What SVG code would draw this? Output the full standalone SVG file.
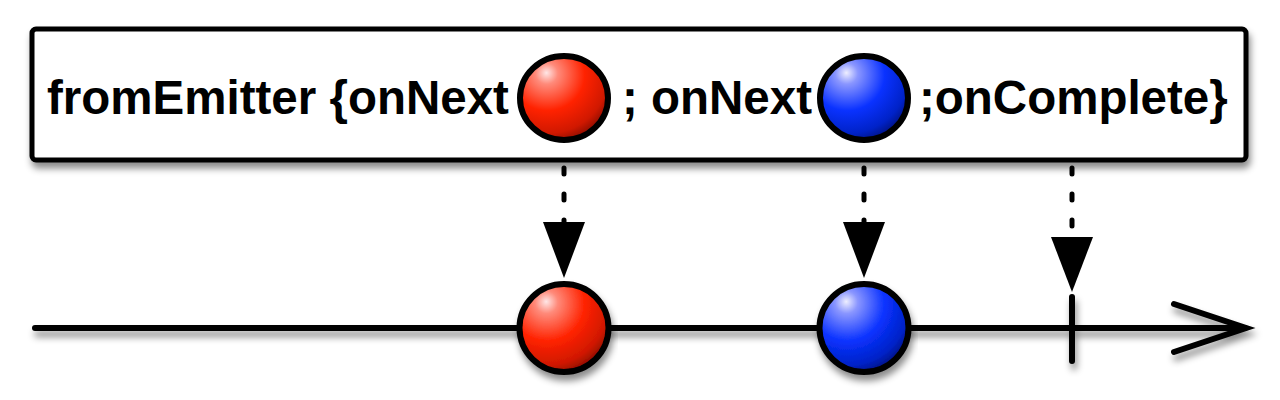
<svg xmlns="http://www.w3.org/2000/svg" width="1280" height="400" viewBox="0 0 1280 400">
  <defs>
    <filter id="shadow" x="-10%" y="-20%" width="120%" height="150%">
      <feDropShadow dx="2" dy="6" stdDeviation="3.5" flood-color="#000" flood-opacity="0.45"/>
    </filter>
    <radialGradient id="redBall" cx="0.32" cy="0.25" r="0.85" fx="0.3" fy="0.2">
      <stop offset="0" stop-color="#ffe6e6"/>
      <stop offset="0.15" stop-color="#ff8a7a"/>
      <stop offset="0.5" stop-color="#ff2200"/>
      <stop offset="0.8" stop-color="#d01800"/>
      <stop offset="1" stop-color="#700800"/>
    </radialGradient>
    <radialGradient id="blueBall" cx="0.32" cy="0.25" r="0.85" fx="0.3" fy="0.2">
      <stop offset="0" stop-color="#eeeeff"/>
      <stop offset="0.15" stop-color="#8a96ff"/>
      <stop offset="0.5" stop-color="#0a32ff"/>
      <stop offset="0.8" stop-color="#0022c8"/>
      <stop offset="1" stop-color="#000c66"/>
    </radialGradient>
  </defs>
  <style>
    .box { fill: #fff; stroke: #000; stroke-width: 5; }
    .label { font-family: "Liberation Sans", Arial, sans-serif; font-weight: bold; font-size: 47.5px; fill: #000; }
    .ball { stroke: #000; stroke-width: 6; }
    .line { stroke: #000; stroke-width: 6; stroke-linecap: round; fill: none; }
    .dots { stroke: #000; stroke-width: 5; stroke-linecap: round; stroke-dasharray: 6 20; fill: none; }
    .head { fill: #000; }
  </style>

  <g id="emitter">
    <rect class="box" x="32" y="29" width="1214" height="131" rx="4" filter="url(#shadow)"/>
    <text class="label" x="47" y="114">fromEmitter {onNext</text>
    <ellipse class="ball" cx="564" cy="98" rx="44" ry="42" fill="url(#redBall)"/>
    <text class="label" x="622" y="114">; onNext</text>
    <ellipse class="ball" cx="864" cy="98" rx="44" ry="42" fill="url(#blueBall)"/>
    <text class="label" x="919" y="114">;onComplete}</text>
  </g>

  <g id="connectors">
    <line class="dots" x1="564" y1="168" x2="564" y2="222"/>
    <polygon class="head" points="543,222 585,222 564,278"/>
    <line class="dots" x1="864" y1="168" x2="864" y2="222"/>
    <polygon class="head" points="843,222 885,222 864,278"/>
    <line class="dots" x1="1072" y1="168" x2="1072" y2="237"/>
    <polygon class="head" points="1051,237 1093,237 1072,292"/>
  </g>

  <g id="timeline" filter="url(#shadow)">
    <line class="line" x1="35" y1="328" x2="1245" y2="328"/>
    <polyline class="line" points="1174,304 1246,328 1174,352" stroke-linecap="butt"/>
    <line class="line" x1="1072" y1="297" x2="1072" y2="361"/>
  </g>

  <g id="item-red" filter="url(#shadow)">
    <ellipse class="ball" cx="564" cy="328" rx="44.5" ry="44" fill="url(#redBall)"/>
  </g>
  <g id="item-blue" filter="url(#shadow)">
    <ellipse class="ball" cx="864" cy="328" rx="44.5" ry="44" fill="url(#blueBall)"/>
  </g>
</svg>
